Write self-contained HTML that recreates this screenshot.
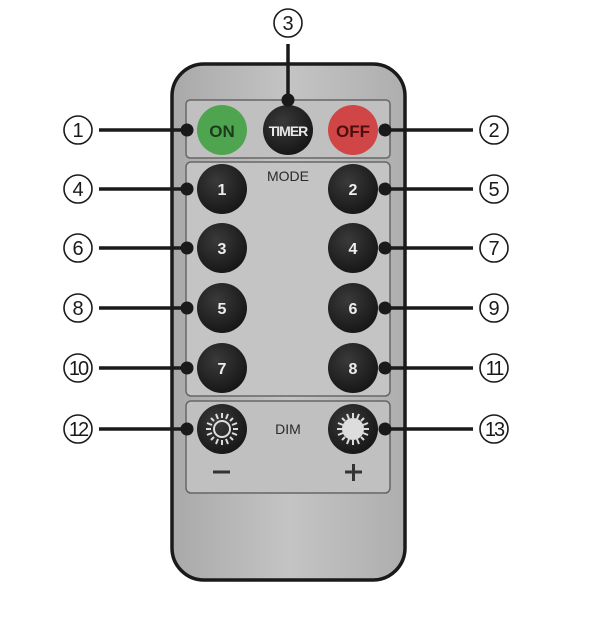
<!DOCTYPE html>
<html><head><style>html,body{margin:0;padding:0;background:#fff;width:615px;height:623px;overflow:hidden}</style></head>
<body>
<svg width="615" height="623" viewBox="0 0 615 623" xmlns="http://www.w3.org/2000/svg" font-family="Liberation Sans, DejaVu Sans, sans-serif">
<defs>
<linearGradient id="g" x1="0" y1="0" x2="1" y2="0">
<stop offset="0" stop-color="#a9a9a9"/><stop offset="0.5" stop-color="#c4c4c4"/><stop offset="1" stop-color="#aeaeae"/>
</linearGradient>
<radialGradient id="bk" cx="0.4" cy="0.35" r="0.7"><stop offset="0" stop-color="#3a3a3a"/><stop offset="1" stop-color="#151515"/></radialGradient>
</defs>
<rect x="172" y="64" width="233" height="516" rx="32" fill="url(#g)" stroke="#1a1a1a" stroke-width="3.5"/>
<rect x="186" y="100" width="204" height="58" rx="4" fill="#c0c0c0" stroke="#666" stroke-width="1.5"/>
<rect x="186" y="162" width="204" height="234" rx="5" fill="#c4c4c4" stroke="#666" stroke-width="1.5"/>
<rect x="186" y="401" width="204" height="92" rx="5" fill="#c0c0c0" stroke="#666" stroke-width="1.5"/>
<circle cx="222" cy="130" r="25" fill="#4fa54f"/>
<text x="222" y="137" font-size="17" font-weight="bold" text-anchor="middle" fill="#1b3b1b">ON</text>
<circle cx="288" cy="130" r="25" fill="url(#bk)"/>
<text x="288" y="136" font-size="14" font-weight="bold" text-anchor="middle" fill="#e8e8e8" letter-spacing="-1">TIMER</text>
<circle cx="353" cy="130" r="25" fill="#d04545"/>
<text x="353" y="137" font-size="17" font-weight="bold" text-anchor="middle" fill="#4a1010">OFF</text>
<text x="288" y="181" font-size="14" text-anchor="middle" fill="#2a2a2a">MODE</text>
<text x="288" y="434" font-size="14" text-anchor="middle" fill="#2a2a2a">DIM</text>
<g fill="url(#bk)">
<circle cx="222" cy="189" r="25"/><circle cx="353" cy="189" r="25"/>
<circle cx="222" cy="248" r="25"/><circle cx="353" cy="248" r="25"/>
<circle cx="222" cy="308" r="25"/><circle cx="353" cy="308" r="25"/>
<circle cx="222" cy="368" r="25"/><circle cx="353" cy="368" r="25"/>
<circle cx="222" cy="429" r="25"/><circle cx="353" cy="429" r="25"/>
</g>
<g font-size="16" font-weight="bold" fill="#eee" text-anchor="middle">
<text x="222" y="195">1</text><text x="353" y="195">2</text>
<text x="222" y="254">3</text><text x="353" y="254">4</text>
<text x="222" y="314">5</text><text x="353" y="314">6</text>
<text x="222" y="374">7</text><text x="353" y="374">8</text>
</g>
<g stroke="#ddd" stroke-width="2">
<circle cx="222" cy="429" r="8" fill="none"/>
<g transform="translate(222,429)">
<line x1="0" y1="-11" x2="0" y2="-16"/><line x1="0" y1="11" x2="0" y2="16"/><line x1="-11" y1="0" x2="-16" y2="0"/><line x1="11" y1="0" x2="16" y2="0"/>
<line x1="8" y1="8" x2="11" y2="11"/><line x1="-8" y1="8" x2="-11" y2="11"/><line x1="8" y1="-8" x2="11" y2="-11"/><line x1="-8" y1="-8" x2="-11" y2="-11"/>
<line x1="4" y1="-10" x2="6" y2="-15"/><line x1="-4" y1="-10" x2="-6" y2="-15"/><line x1="4" y1="10" x2="6" y2="15"/><line x1="-4" y1="10" x2="-6" y2="15"/>
<line x1="10" y1="4" x2="15" y2="6"/><line x1="-10" y1="4" x2="-15" y2="6"/><line x1="10" y1="-4" x2="15" y2="-6"/><line x1="-10" y1="-4" x2="-15" y2="-6"/>
</g>
<circle cx="353" cy="429" r="10" fill="#ddd"/>
<g transform="translate(353,429)">
<line x1="0" y1="-11" x2="0" y2="-16"/><line x1="0" y1="11" x2="0" y2="16"/><line x1="-11" y1="0" x2="-16" y2="0"/><line x1="11" y1="0" x2="16" y2="0"/>
<line x1="8" y1="8" x2="11" y2="11"/><line x1="-8" y1="8" x2="-11" y2="11"/><line x1="8" y1="-8" x2="11" y2="-11"/><line x1="-8" y1="-8" x2="-11" y2="-11"/>
<line x1="4" y1="-10" x2="6" y2="-15"/><line x1="-4" y1="-10" x2="-6" y2="-15"/><line x1="4" y1="10" x2="6" y2="15"/><line x1="-4" y1="10" x2="-6" y2="15"/>
<line x1="10" y1="4" x2="15" y2="6"/><line x1="-10" y1="4" x2="-15" y2="6"/><line x1="10" y1="-4" x2="15" y2="-6"/><line x1="-10" y1="-4" x2="-15" y2="-6"/>
</g>
</g>
<line x1="213" y1="472" x2="230" y2="472" stroke="#333" stroke-width="3"/>
<line x1="345" y1="472" x2="362" y2="472" stroke="#333" stroke-width="3"/>
<line x1="353.5" y1="464" x2="353.5" y2="481" stroke="#333" stroke-width="3"/>
<g stroke="#1a1a1a" stroke-width="3.5">
<line x1="288" y1="44" x2="288" y2="100"/>
<line x1="99" y1="130" x2="187" y2="130"/><line x1="385" y1="130" x2="473" y2="130"/>
<line x1="99" y1="189" x2="187" y2="189"/><line x1="385" y1="189" x2="473" y2="189"/>
<line x1="99" y1="248" x2="187" y2="248"/><line x1="385" y1="248" x2="473" y2="248"/>
<line x1="99" y1="308" x2="187" y2="308"/><line x1="385" y1="308" x2="473" y2="308"/>
<line x1="99" y1="368" x2="187" y2="368"/><line x1="385" y1="368" x2="473" y2="368"/>
<line x1="99" y1="429" x2="187" y2="429"/><line x1="385" y1="429" x2="473" y2="429"/>
</g>
<g fill="#1a1a1a">
<circle cx="288" cy="100" r="6.5"/>
<circle cx="187" cy="130" r="6.5"/><circle cx="385" cy="130" r="6.5"/>
<circle cx="187" cy="189" r="6.5"/><circle cx="385" cy="189" r="6.5"/>
<circle cx="187" cy="248" r="6.5"/><circle cx="385" cy="248" r="6.5"/>
<circle cx="187" cy="308" r="6.5"/><circle cx="385" cy="308" r="6.5"/>
<circle cx="187" cy="368" r="6.5"/><circle cx="385" cy="368" r="6.5"/>
<circle cx="187" cy="429" r="6.5"/><circle cx="385" cy="429" r="6.5"/>
</g>
<g fill="none" stroke="#1a1a1a" stroke-width="1.6">
<circle cx="288" cy="23" r="14"/>
<circle cx="78" cy="130" r="14"/><circle cx="494" cy="130" r="14"/>
<circle cx="78" cy="189" r="14"/><circle cx="494" cy="189" r="14"/>
<circle cx="78" cy="248" r="14"/><circle cx="494" cy="248" r="14"/>
<circle cx="78" cy="308" r="14"/><circle cx="494" cy="308" r="14"/>
<circle cx="78" cy="368" r="14"/><circle cx="494" cy="368" r="14"/>
<circle cx="78" cy="429" r="14"/><circle cx="494" cy="429" r="14"/>
</g>
<g font-size="20" text-anchor="middle" fill="#1a1a1a">
<text x="288" y="30">3</text>
<text x="78" y="137">1</text><text x="494" y="137">2</text>
<text x="78" y="196">4</text><text x="494" y="196">5</text>
<text x="78" y="255">6</text><text x="494" y="255">7</text>
<text x="78" y="315">8</text><text x="494" y="315">9</text>
<text x="78" y="375" letter-spacing="-2">10</text><text x="494" y="375" letter-spacing="-2">11</text>
<text x="78" y="436" letter-spacing="-2">12</text><text x="494" y="436" letter-spacing="-2">13</text>
</g>
</svg>
</body></html>
